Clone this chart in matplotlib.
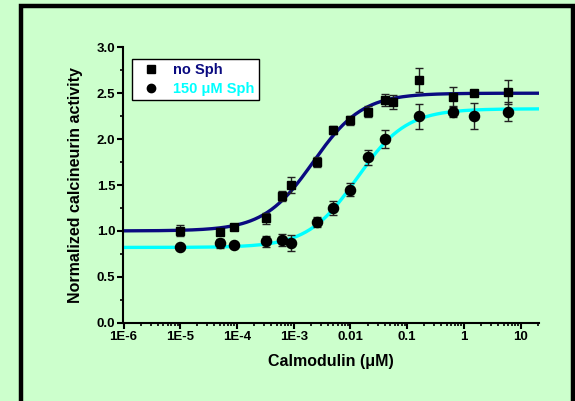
import numpy as np
import matplotlib
matplotlib.use("Agg")
import matplotlib.pyplot as plt
from matplotlib.patches import Rectangle
from matplotlib.lines import Line2D
from matplotlib.ticker import LogLocator, FixedLocator, MultipleLocator, FuncFormatter

plt.rcParams['font.family'] = ['Liberation Sans', 'DejaVu Sans']
plt.rcParams['font.weight'] = 'bold'

# ---- data ----
x_nosph = [1e-5, 5e-5, 9e-5, 3.2e-4, 6.2e-4, 9.1e-4, 2.55e-3, 5e-3, 0.01, 0.02, 0.04, 0.057, 0.16, 0.64, 1.5, 5.9]
y_nosph = [1.00, 0.99, 1.04, 1.14, 1.385, 1.50, 1.75, 2.10, 2.205, 2.30, 2.43, 2.405, 2.645, 2.46, 2.50, 2.515]
e_nosph = [0.06, 0.02, 0.03, 0.06, 0.055, 0.085, 0.05, 0.045, 0.05, 0.06, 0.065, 0.075, 0.128, 0.11, 0.03, 0.128]

x_sph = [1e-5, 5e-5, 9e-5, 3.2e-4, 6.2e-4, 9.1e-4, 2.55e-3, 5e-3, 0.01, 0.02, 0.04, 0.16, 0.64, 1.5, 5.9]
y_sph = [0.83, 0.865, 0.85, 0.885, 0.90, 0.868, 1.10, 1.25, 1.45, 1.80, 2.00, 2.25, 2.30, 2.25, 2.30]
e_sph = [0.02, 0.05, 0.02, 0.06, 0.065, 0.085, 0.055, 0.08, 0.07, 0.08, 0.10, 0.135, 0.06, 0.14, 0.10]

# Hill fit parameters: bottom, top, EC50, hill slope
fit_nosph = (1.00, 2.50, 2.2e-3, 1.0)
fit_sph = (0.82, 2.33, 1.3e-2, 1.0)

series_labels = ['no Sph', '150 \u03bcM Sph']
x_ticks = [1e-6, 1e-5, 1e-4, 1e-3, 1e-2, 1e-1, 1, 10]
x_ticklabels = ['1E-6', '1E-5', '1E-4', '1E-3', '0.01', '0.1', '1', '10']
y_ticks = [0.0, 0.5, 1.0, 1.5, 2.0, 2.5, 3.0]

bg = '#CCFFCC'
navy = '#0A0A80'
cyan = '#00FFFF'

W, H = 575, 401
fig = plt.figure(figsize=(W/100, H/100), dpi=100, facecolor=bg)
ax = fig.add_axes([123.5/W, 1-322.7/H, (539-123.5)/W, (322.7-47.3)/H])
ax.set_facecolor(bg)

def hill(x, p):
    b, t, ec, n = p
    return b + (t - b) / (1 + (ec / x) ** n)

xs = np.logspace(-6, np.log10(21), 400)
ax.plot(xs, hill(xs, fit_nosph), color=navy, lw=2.4, zorder=2)
ax.plot(xs, hill(xs, fit_sph), color=cyan, lw=2.4, zorder=2)

ax.errorbar(x_nosph, y_nosph, yerr=e_nosph, fmt='s', color='black', ms=6.3,
            ecolor='#222222', elinewidth=1, capsize=3, capthick=1, zorder=3)
ax.errorbar(x_sph, y_sph, yerr=e_sph, fmt='o', color='black', ms=7.3,
            ecolor='#222222', elinewidth=1, capsize=3, capthick=1, zorder=3)

ax.set_xscale('log')
ax.set_xlim(1e-6, 21)
ax.set_ylim(0, 3.0)
ax.xaxis.set_major_locator(FixedLocator(x_ticks))
ax.set_xticks(x_ticks)
ax.set_xticklabels(x_ticklabels)
ax.xaxis.set_minor_locator(LogLocator(base=10, subs=np.arange(2, 10), numticks=20))
ax.xaxis.set_minor_formatter(FuncFormatter(lambda v, p: ''))
ax.set_yticks(y_ticks)
ax.set_yticklabels(['%.1f' % v for v in y_ticks])
ax.yaxis.set_minor_locator(MultipleLocator(0.25))

for s in ['top', 'right']:
    ax.spines[s].set_visible(False)
for s in ['left', 'bottom']:
    ax.spines[s].set_linewidth(1.5)
ax.tick_params(axis='both', which='major', direction='out', length=4, width=1.5,
               labelsize=9.5, pad=2)
ax.tick_params(axis='both', which='minor', direction='out', length=2, width=1.2)

ax.set_xlabel('Calmodulin (\u03bcM)', fontsize=11.5, fontweight='bold', labelpad=8)
ax.set_ylabel('Normalized calcineurin activity', fontsize=11.5, fontweight='bold', labelpad=10)

handles = [Line2D([], [], ls='', marker='s', color='black', ms=5.5),
           Line2D([], [], ls='', marker='o', color='black', ms=6)]
# legend box top-left at pixel (132, 59)
leg = ax.legend(handles, series_labels, loc='upper left',
                bbox_to_anchor=((132-123.5)/(539-123.5), 1-(59-47.3)/(322.7-47.3)),
                borderaxespad=0, frameon=True,
                fancybox=False, edgecolor='black', facecolor='white', framealpha=1,
                fontsize=10.5, handlelength=2.0, handletextpad=0.5, borderpad=0.3,
                labelspacing=0.3)
leg.get_frame().set_linewidth(1.0)
texts = leg.get_texts()
texts[0].set_color(navy)
texts[1].set_color(cyan)
for t in texts:
    t.set_fontweight('bold')

# black frame around figure
fig.patches.append(Rectangle((21/W, -0.05), (572.5-21)/W, 1.05 - 6.5/H,
                             transform=fig.transFigure, fill=False,
                             edgecolor='black', linewidth=3.2, clip_on=False))

fig.savefig('out.png', dpi=100, facecolor=bg)
